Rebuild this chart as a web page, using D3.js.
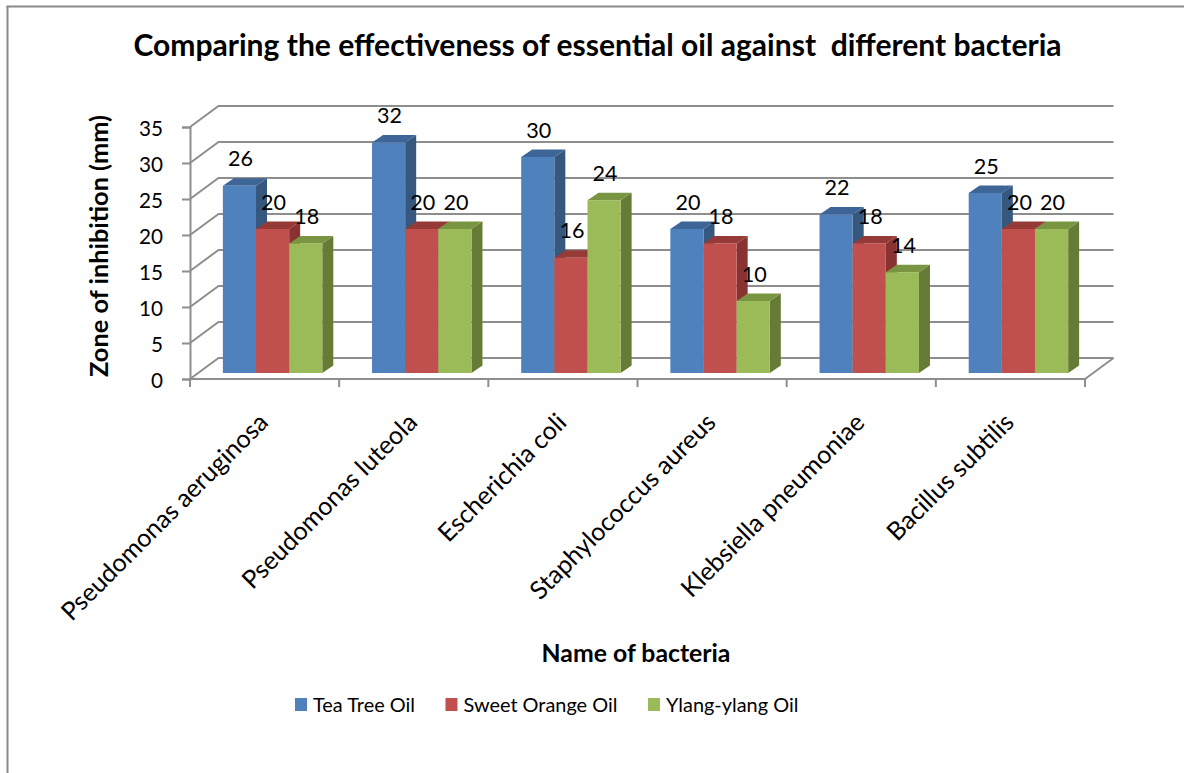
<!DOCTYPE html>
<html>
<head>
<meta charset="utf-8">
<script src="https://cdn.jsdelivr.net/npm/d3@7"></script>
<style>
  html, body { margin: 0; padding: 0; background: #ffffff; }
  svg { display: block; }
  text { font-family: Lato, "Open Sans", "Liberation Sans", sans-serif; fill: #000; }
</style>
</head>
<body>
<svg id="chart" width="1184" height="773"></svg>
<script>
// ---- data ----
const categories = ["Pseudomonas aeruginosa", "Pseudomonas luteola", "Escherichia coli",
                    "Staphylococcus aureus", "Klebsiella pneumoniae", "Bacillus subtilis"];
const seriesNames = ["Tea Tree Oil", "Sweet Orange Oil", "Ylang-ylang Oil"];
const teaTreeOil = [26, 32, 30, 20, 22, 25];
const sweetOrangeOil = [20, 20, 16, 18, 18, 20];
const ylangYlangOil = [18, 20, 24, 10, 14, 20];
const yTicks = [0, 5, 10, 15, 20, 25, 30, 35];

const seriesValues = [teaTreeOil, sweetOrangeOil, ylangYlangOil];

// face colours: front, top, side
const palette = [
  { front: "#4f81bd", top: "#3d6596", side: "#36577e" },
  { front: "#c0504d", top: "#963a37", side: "#883331" },
  { front: "#9bbb59", top: "#7a9541", side: "#667b36" }
];

const svg = d3.select("#chart");
const W = 1184, H = 773;

svg.append("rect").attr("width", W).attr("height", H).attr("fill", "#fff");

// font size that makes a string span a given width
function fitSize(str, weight, target) {
  const t = svg.append("text").attr("font-size", 100).attr("font-weight", weight).text(str);
  const len = t.node().getComputedTextLength();
  t.remove();
  return 100 * target / len;
}

// ---- frame ----
const frameColor = "#8a8a8a";
svg.append("line").attr("x1", 6.5).attr("x2", W).attr("y1", 6.5).attr("y2", 6.5)
  .attr("stroke", frameColor).attr("stroke-width", 2);
svg.append("line").attr("x1", 7.5).attr("x2", 7.5).attr("y1", 6).attr("y2", H)
  .attr("stroke", frameColor).attr("stroke-width", 2);

// ---- scales ----
const plotLeft = 190, plotRight = 1085, floorY = 379;
const y = d3.scaleLinear().domain([0, 35]).range([floorY, 127]);
const x = d3.scaleBand().domain(categories).range([plotLeft, plotRight]).paddingInner(0).paddingOuter(0);
const xs = d3.scaleBand().domain(seriesNames).range([0, x.bandwidth()]).paddingInner(0).paddingOuter(0.75);

// oblique depth of the back wall, and placement/depth of the bars
const wall = { dx: 28.5, dy: -21 };
const barShift = { dx: 8, dy: -6 };
const barDepth = { dx: 11, dy: -7.5 };

const gridColor = "#8e8e8e";
const grid = svg.append("g").attr("fill", "none").attr("stroke", gridColor).attr("stroke-width", 2);

// gridlines: diagonal on the side wall, then across the back wall
yTicks.forEach(v => {
  const yy = y(v);
  grid.append("path")
    .attr("d", `M${plotLeft},${yy}L${plotLeft + wall.dx},${yy + wall.dy}L${plotRight + wall.dx},${yy + wall.dy}`);
});
// right edge of the floor
grid.append("path")
  .attr("d", `M${plotRight},${floorY}L${plotRight + wall.dx},${floorY + wall.dy}`);

// ---- y axis ----
const tickFont = fitSize("35", 400, 24);
const yAxis = d3.axisLeft(y).tickValues(yTicks).tickSize(8).tickPadding(19);
const gy = svg.append("g").attr("transform", `translate(${plotLeft},0)`).call(yAxis);
gy.select(".domain").attr("stroke", gridColor).attr("stroke-width", 2);
gy.selectAll(".tick line").attr("stroke", gridColor).attr("stroke-width", 2);
gy.selectAll(".tick text").attr("font-size", tickFont).attr("dy", "0.42em")
  .attr("font-family", "Lato, 'Open Sans', sans-serif").attr("fill", "#000");

// ---- x axis ----
const xBounds = categories.map(c => x(c)).concat([plotRight]);
svg.append("line").attr("x1", plotLeft).attr("x2", plotRight).attr("y1", floorY).attr("y2", floorY)
  .attr("stroke", gridColor).attr("stroke-width", 2);
svg.append("g").selectAll("line").data(xBounds).join("line")
  .attr("x1", d => d).attr("x2", d => d).attr("y1", floorY).attr("y2", floorY + 8)
  .attr("stroke", gridColor).attr("stroke-width", 2);

const catFont = fitSize("Pseudomonas aeruginosa", 400, 280);
svg.append("g").selectAll("text").data(categories).join("text")
  .attr("transform", d => `translate(${x(d) + x.bandwidth() / 2 + 5},424) rotate(-45)`)
  .attr("text-anchor", "end")
  .attr("font-size", catFont)
  .text(d => d);

// ---- bars ----
const bars = [];
categories.forEach((c, ci) => {
  seriesNames.forEach((s, si) => {
    bars.push({ c, s, si, v: seriesValues[si][ci] });
  });
});

const barW = xs.bandwidth();
const gBars = svg.append("g");
bars.forEach(b => {
  const x0 = x(b.c) + xs(b.s) + barShift.dx;
  const x1 = x0 + barW;
  const top = y(b.v) + barShift.dy;
  const base = y(0) + barShift.dy;
  const col = palette[b.si];
  const g = gBars.append("g");
  g.append("path")
    .attr("d", `M${x1},${top}L${x1 + barDepth.dx},${top + barDepth.dy}L${x1 + barDepth.dx},${base + barDepth.dy}L${x1},${base}Z`)
    .attr("fill", col.side);
  g.append("path")
    .attr("d", `M${x0},${top}L${x0 + barDepth.dx},${top + barDepth.dy}L${x1 + barDepth.dx},${top + barDepth.dy}L${x1},${top}Z`)
    .attr("fill", col.top);
  g.append("rect")
    .attr("x", x0).attr("y", top).attr("width", barW).attr("height", base - top)
    .attr("fill", col.front);
});

// ---- value labels ----
const valueFont = fitSize("26", 400, 25);
svg.append("g").selectAll("text").data(bars).join("text")
  .attr("x", d => x(d.c) + xs(d.s) + barShift.dx + barW / 2 + 1)
  .attr("y", d => y(d.v) + barShift.dy + barDepth.dy - 12)
  .attr("text-anchor", "middle")
  .attr("font-size", valueFont)
  .text(d => d.v);

// ---- titles ----
const titleText = "Comparing the effectiveness of essential oil against  different bacteria";
svg.append("text")
  .attr("x", 597.5).attr("y", 56)
  .attr("text-anchor", "middle")
  .attr("font-weight", 700)
  .attr("font-size", fitSize(titleText, 700, 921))
  .style("white-space", "pre")
  .text(titleText);

svg.append("text")
  .attr("transform", "translate(108,246) rotate(-90)")
  .attr("text-anchor", "middle")
  .attr("font-weight", 700)
  .attr("font-size", fitSize("Zone of inhibition (mm)", 700, 262))
  .text("Zone of inhibition (mm)");

svg.append("text")
  .attr("x", 636).attr("y", 662)
  .attr("text-anchor", "middle")
  .attr("font-weight", 700)
  .attr("font-size", fitSize("Name of bacteria", 700, 189))
  .text("Name of bacteria");

// ---- legend ----
const legendFont = fitSize("Tea Tree Oil", 400, 102);
const legend = svg.append("g");
let lx = 295;
seriesNames.forEach((s, i) => {
  legend.append("rect").attr("x", lx).attr("y", 698).attr("width", 12).attr("height", 13)
    .attr("fill", palette[i].front);
  const t = legend.append("text").attr("x", lx + 18).attr("y", 712)
    .attr("font-size", legendFont).text(s);
  lx += 18 + t.node().getComputedTextLength() + 30.5;
});
</script>
</body>
</html>
